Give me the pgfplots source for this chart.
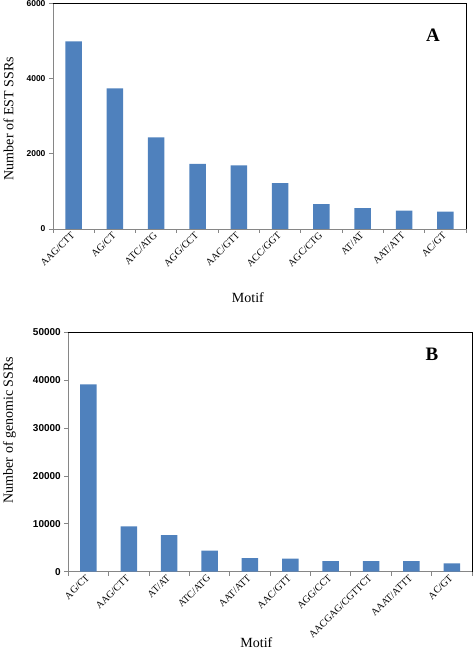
\documentclass[border=0pt]{standalone}
\usepackage{fontspec}
\setmainfont{Liberation Serif}
\newfontfamily\tickfont{Liberation Sans}
\usepackage{pgfplots}
\pgfplotsset{compat=1.18}
\definecolor{barblue}{RGB}{79,129,189}
\definecolor{axgray}{RGB}{134,134,134}
\pgfplotsset{
  myaxis/.style={
    scale only axis,
    xmin=-0.5, xmax=9.5, ymin=0,
    xtick={0,...,9},
    minor xtick={-0.5,0.5,...,9.5},
    every major x tick/.append style={draw=none},
    every minor x tick/.append style={axgray, line width=0.8pt},
    minor tick length=4pt,
    major tick length=4pt,
    tick align=outside,
    axis x line*=bottom, axis y line*=left,
    axis line style={axgray, line width=0.8pt},
    ytick style={axgray, line width=0.8pt},
    /pgf/number format/assume math mode=true,
    /pgf/number format/1000 sep={},
    scaled y ticks=false,
    xticklabel style={font=\fontsize{10}{12}\selectfont, rotate=45, anchor=east, inner sep=1pt},
    ylabel style={font=\fontsize{14}{16}\selectfont},
    xlabel style={font=\fontsize{14}{16}\selectfont},
    ybar, bar width=16.5pt,
    clip=false,
  }
}
\begin{document}
\begin{tikzpicture}
\useasboundingbox (0pt,0pt) rectangle (473pt,651pt);
\begin{axis}[myaxis,
  at={(53pt,422pt)}, anchor=south west,
  width=413pt, height=225.5pt,
  ymax=6000, ytick={0,2000,4000,6000},
  yticklabel style={font=\tickfont\bfseries\fontsize{8.5}{10}\selectfont},
  xticklabels={AAG/CTT,AG/CT,ATC/ATG,AGG/CCT,AAC/GTT,ACC/GGT,AGC/CTG,AT/AT,AAT/ATT,AC/GT},
  ylabel={Number of EST SSRs},
  ylabel style={at={(axis description cs:-0.108,0.49)}, anchor=center},
  xlabel={Motif},
  xlabel style={at={(axis description cs:0.472,-0.306)}, anchor=center},
]
\addplot[fill=barblue, draw=none] coordinates {(0,4990) (1,3745) (2,2440) (3,1730) (4,1690) (5,1220) (6,665) (7,555) (8,490) (9,462)};
\draw[black, line width=0.8pt] (rel axis cs:0,1) -- (rel axis cs:1,1) -- (rel axis cs:1,0);
\node[font=\bfseries\fontsize{19}{22}\selectfont] at (rel axis cs:0.92,0.86) {A};
\end{axis}
\begin{axis}[myaxis,
  at={(68.3pt,79.3pt)}, anchor=south west,
  width=403.7pt, height=239.4pt,
  ymax=50000, ytick={0,10000,20000,30000,40000,50000},
  yticklabel style={font=\tickfont\bfseries\fontsize{10}{12}\selectfont},
  xticklabels={AG/CT,AAG/CTT,AT/AT,ATC/ATG,AAT/ATT,AAC/GTT,AGG/CCT,AACGAG/CGTTCT,AAAT/ATTT,AC/GT},
  ylabel={Number of genomic SSRs},
  ylabel style={at={(axis description cs:-0.146,0.592)}, anchor=center},
  xlabel={Motif},
  xlabel style={at={(axis description cs:0.466,-0.298)}, anchor=center},
]
\addplot[fill=barblue, draw=none] coordinates {(0,39100) (1,9480) (2,7660) (3,4390) (4,2860) (5,2720) (6,2230) (7,2230) (8,2200) (9,1750)};
\draw[black, line width=0.8pt] (rel axis cs:0,1) -- (rel axis cs:1,1) -- (rel axis cs:1,0);
\node[font=\bfseries\fontsize{19}{22}\selectfont] at (rel axis cs:0.901,0.909) {B};
\end{axis}
\end{tikzpicture}
\end{document}
